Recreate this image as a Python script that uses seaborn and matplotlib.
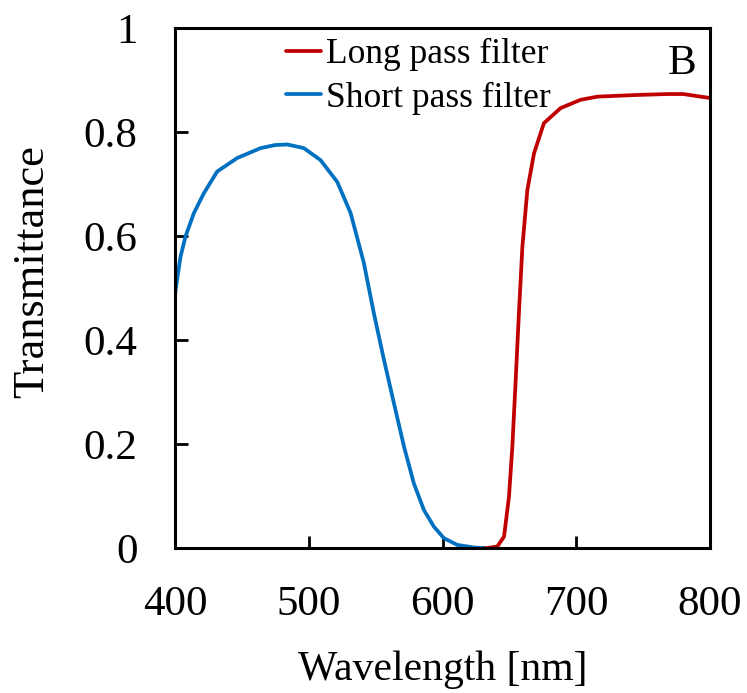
import matplotlib
matplotlib.use("Agg")
import matplotlib.pyplot as plt
import seaborn as sns
import pandas as pd

short_wl = [400, 400.4, 404.1, 407.8, 414.1, 421.5, 431.5, 446.5, 464, 475, 484, 496.3, 508.8,
            521.3, 531.3, 541.2, 548.7, 556.2, 563.7, 571.2, 578.6, 586.1, 593.6, 601, 611,
            623.5, 631]
short_t = [0.483, 0.496, 0.56, 0.599, 0.644, 0.682, 0.724, 0.750, 0.769, 0.775, 0.776, 0.769,
           0.746, 0.704, 0.644, 0.548, 0.451, 0.362, 0.278, 0.195, 0.124, 0.073, 0.041, 0.019,
           0.006, 0.001, 0.0]

long_wl = [631, 633.5, 641, 646, 649.7, 652.2, 654.7, 657.1, 659.7, 663.4, 668.4, 675.8, 688.3,
           703.3, 715.8, 743, 768, 780, 793, 801]
long_t = [0.0, 0.0, 0.003, 0.022, 0.099, 0.195, 0.323, 0.451, 0.579, 0.688, 0.759, 0.817, 0.846,
          0.862, 0.868, 0.871, 0.873, 0.873, 0.868, 0.865]

series_names = ["Long pass filter", "Short pass filter"]
series_colors = ["#C00000", "#0070C0"]
x_ticks = [400, 500, 600, 700, 800]
y_ticks = [0, 0.2, 0.4, 0.6, 0.8, 1]
y_tick_labels = ["0", "0.2", "0.4", "0.6", "0.8", "1"]

df = pd.concat([
    pd.DataFrame({"Wavelength": long_wl, "T": long_t, "Series": series_names[0]}),
    pd.DataFrame({"Wavelength": short_wl, "T": short_t, "Series": series_names[1]}),
])

sns.set_style("ticks")
plt.rcParams["font.family"] = ["Liberation Serif", "DejaVu Serif"]
for key in ["text.color", "axes.labelcolor", "xtick.color", "ytick.color", "axes.edgecolor"]:
    plt.rcParams[key] = "black"

fig = plt.figure(figsize=(7.47, 6.93), dpi=100)
ax = fig.add_axes([0.2343, 0.2092, 0.9505 - 0.2343, 0.9596 - 0.2092])

sns.lineplot(data=df, x="Wavelength", y="T", hue="Series", hue_order=series_names,
             palette=series_colors, linewidth=2.7, ax=ax, sort=False, estimator=None)

ax.set_xlim(400, 800)
ax.set_ylim(0, 1)
ax.set_xticks(x_ticks)
ax.set_yticks(y_ticks)
ax.set_yticklabels(y_tick_labels)
ax.tick_params(direction="in", length=9, width=2, labelsize=31, pad=27,
               top=False, right=False, color="black", labelcolor="black")
for s in ax.spines.values():
    s.set_linewidth(2.2)
    s.set_color("black")

ax.set_xlabel("Wavelength [nm]", fontsize=30, labelpad=19)
ax.set_ylabel("Transmittance", fontsize=32, labelpad=23)
ax.yaxis.label.set_y(0.531)

leg = ax.legend(loc="upper left", bbox_to_anchor=(286 / 747, 1 - 38 / 693),
                bbox_transform=fig.transFigure, frameon=False, fontsize=25.5,
                handlelength=1.0, handletextpad=0.12, borderpad=0, borderaxespad=0,
                labelspacing=0.3)
for line in leg.get_lines():
    line.set_linewidth(2.7)

fig.text(682 / 747, 1 - 64 / 693, "B", fontsize=31, ha="center", va="center")

fig.savefig("out.png", dpi=100)
